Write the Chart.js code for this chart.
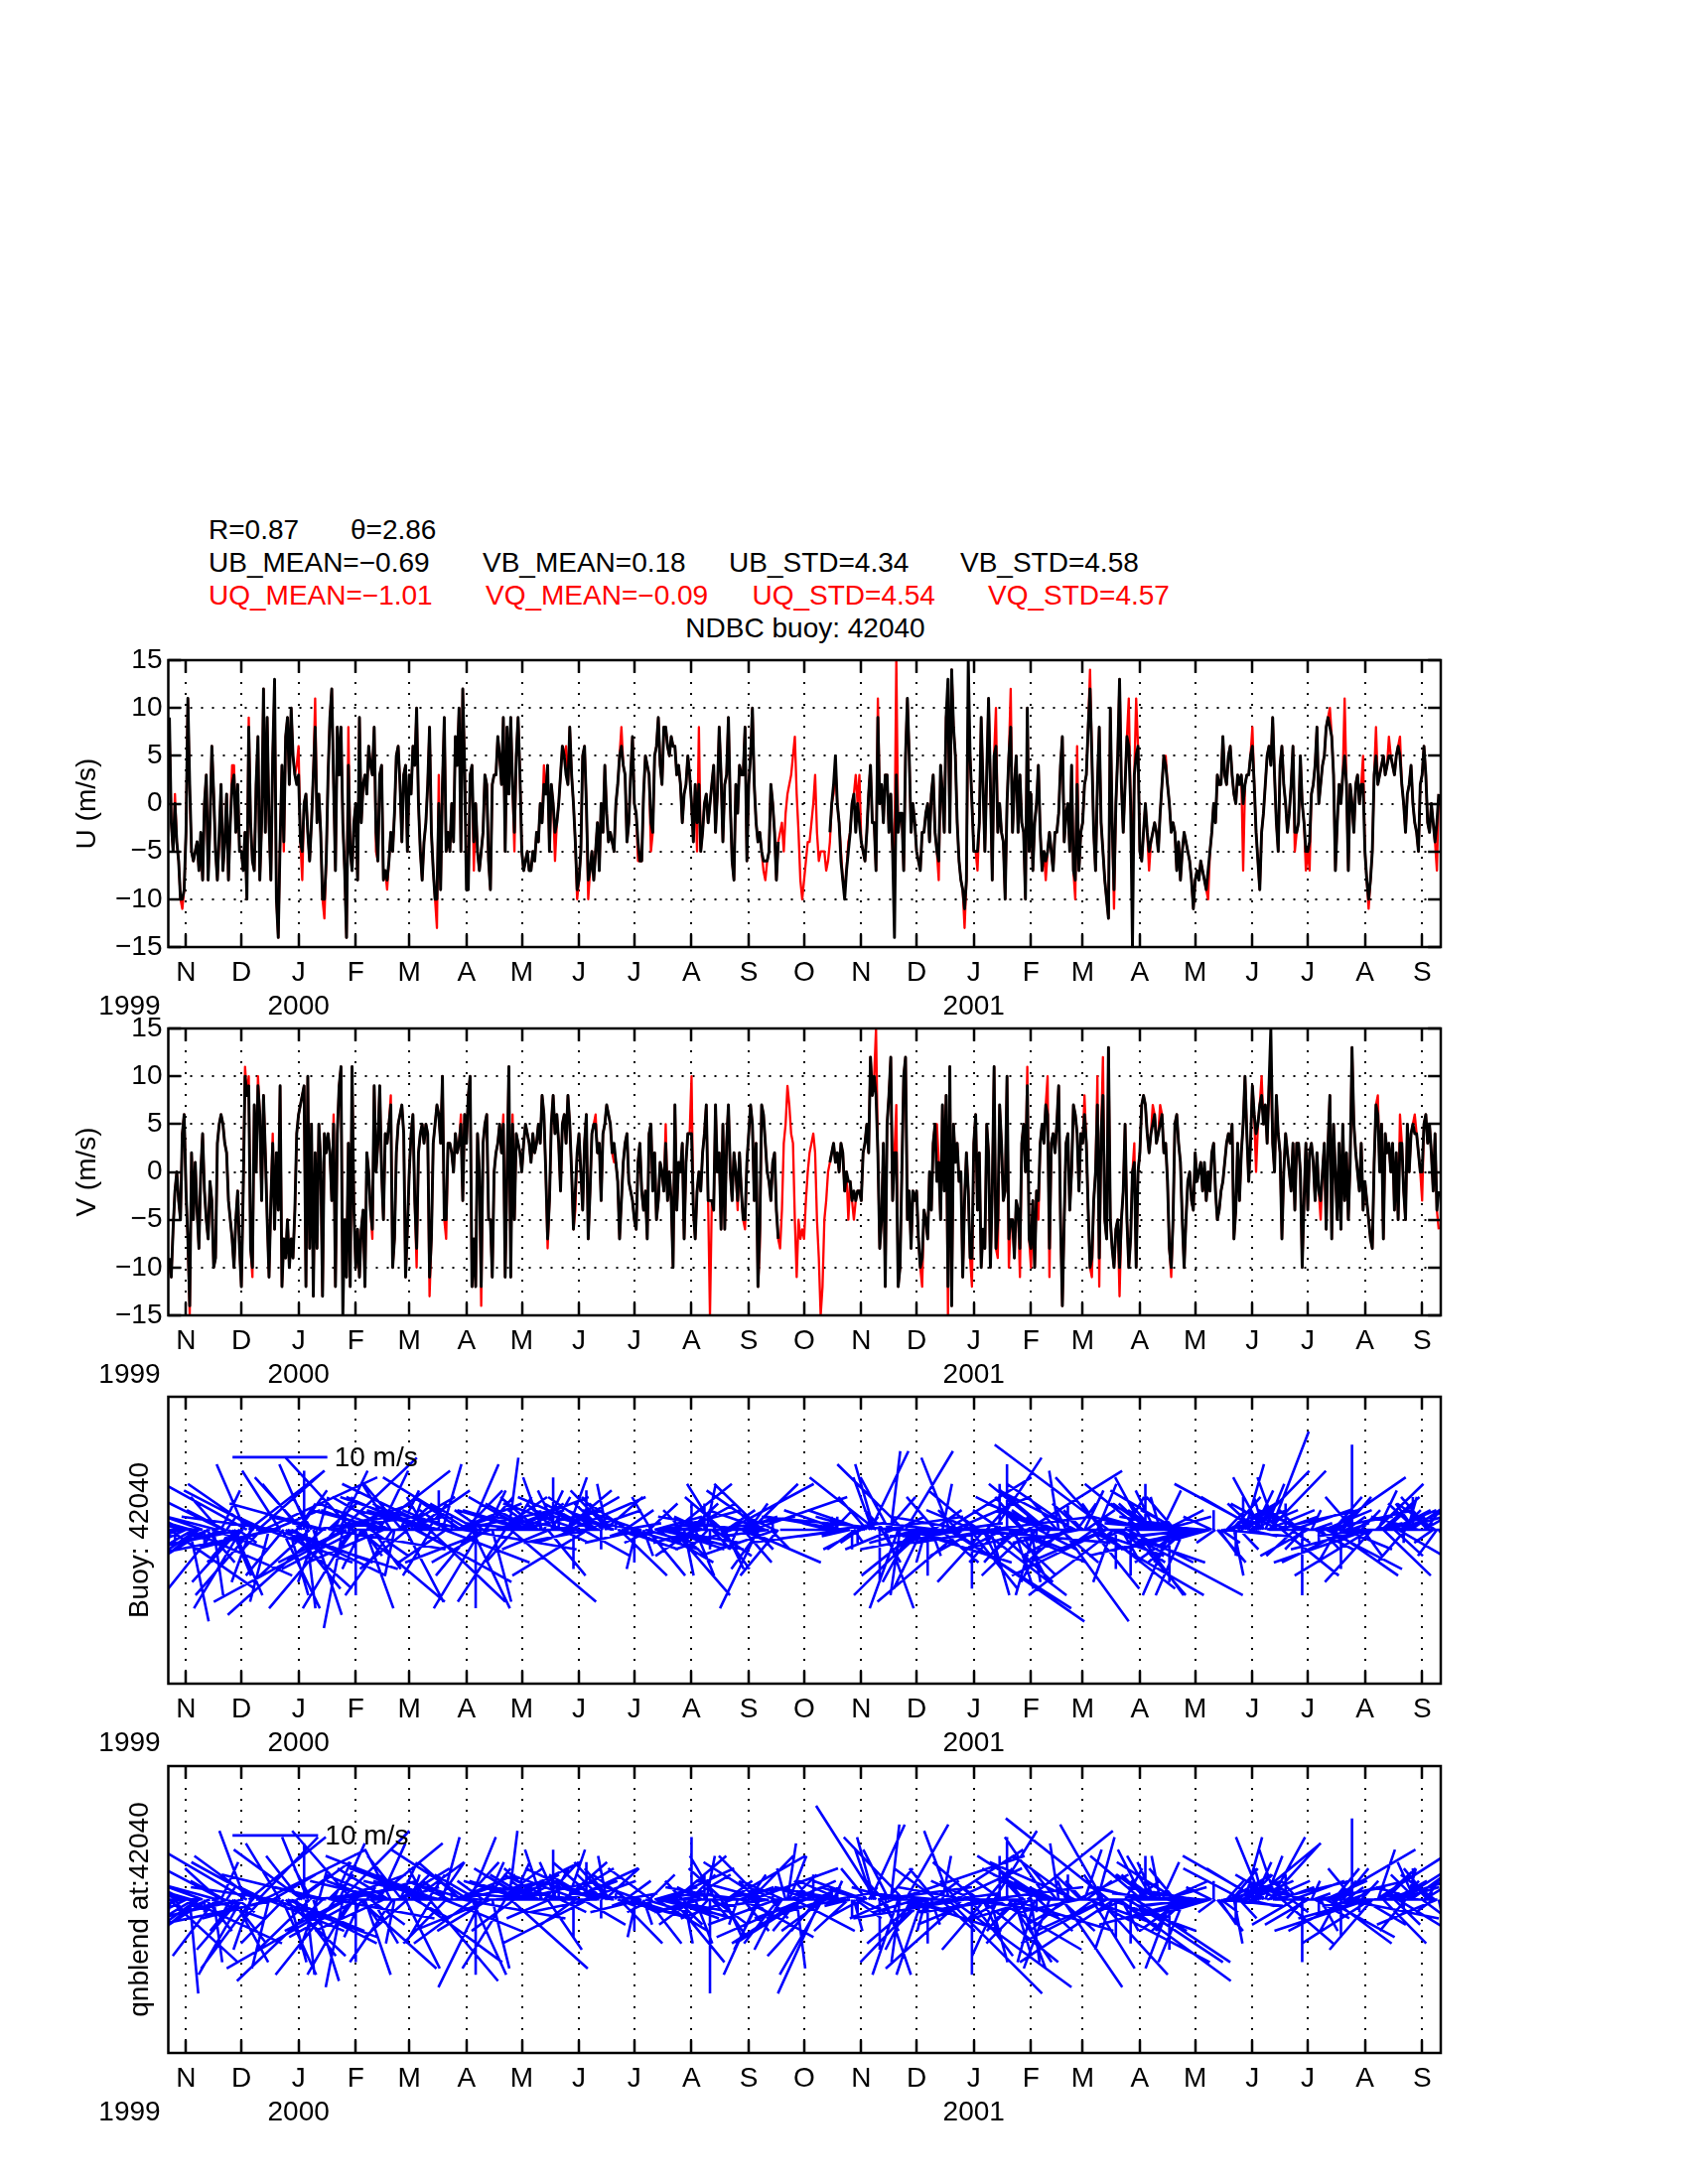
<!DOCTYPE html>
<html><head><meta charset="utf-8">
<script src="https://cdn.jsdelivr.net/npm/chart.js@4.4.1/dist/chart.umd.min.js"></script>
<style>
html,body{margin:0;padding:0;background:#fff;}
body{width:1700px;height:2200px;position:relative;overflow:hidden;font-family:"Liberation Sans",Arial,Helvetica,sans-serif;}
.t{position:absolute;font-size:28px;line-height:1;white-space:nowrap;color:#000;}
.r{color:#ff0000;}
canvas{position:absolute;left:0;}
</style></head><body>
<div class="t" style="left:210px;top:519.5px">R=0.87</div>
<div class="t" style="left:353px;top:519.5px">θ=2.86</div>
<div class="t" style="left:210px;top:553px">UB_MEAN=−0.69</div>
<div class="t" style="left:486px;top:553px">VB_MEAN=0.18</div>
<div class="t" style="left:734px;top:553px">UB_STD=4.34</div>
<div class="t" style="left:967px;top:553px">VB_STD=4.58</div>
<div class="t r" style="left:210px;top:585.5px">UQ_MEAN=−1.01</div>
<div class="t r" style="left:489px;top:585.5px">VQ_MEAN=−0.09</div>
<div class="t r" style="left:757.5px;top:585.5px">UQ_STD=4.54</div>
<div class="t r" style="left:995px;top:585.5px">VQ_STD=4.57</div>
<div class="t" style="left:811px;top:619px;transform:translateX(-50%)">NDBC buoy: 42040</div>
<script>
const _ = null;
// daily samples, first one on 23 Oct 1999 (day -9 relative to 1 Nov 1999)
const DAY0 = -9;
const monthLetters = ['N','D','J','F','M','A','M','J','J','A','S','O','N','D','J','F','M','A','M','J','J','A','S'];
const yearLabels = ['1999','2000','2001'];
const uvTicks = [-15,-10,-5,0,5,10,15];
const legendSpeed = 10;

// U buoy (m/s)
const ubuoy = [
9,-2,-5,0,-4,-6,-10,-10,-9,
-3,11,2,-5,-6,-5,-4,-7,-3,-8,0,3,-8,-2,6,1,-5,-8,-3,2,-7,-4,1,-8,-2,2,3,-3,2,-5,
-5,-7,-3,-10,8,-2,-6,-7,2,7,-8,-2,12,-3,9,-2,-8,5,13,-10,-14,-4,4,-4,7,9,2,10,5,3,2,
3,-4,-5,0,1,-3,-6,-2,3,8,-2,1,-3,-10,-10,-6,3,9,12,2,-7,8,3,8,-2,-7,-14,4,-5,-7,-2,
0,-8,9,-2,2,3,1,6,4,3,8,-3,-6,3,4,-8,-7,-8,-6,-3,-5,-1,5,6,2,-4,3,4,-5,
3,1,6,4,10,0,-5,-8,-4,-2,2,8,-3,-7,-10,-10,0,-9,2,9,-5,-3,-5,0,-4,7,4,10,-5,12,4,
-9,-9,3,4,-4,0,-5,-7,-5,-3,3,2,-6,-9,2,3,3,7,5,2,9,-5,8,1,9,2,-3,5,9,3,
-5,-7,-6,-5,-7,-7,-5,-6,-3,-4,0,-2,2,1,4,-5,2,0,-3,-2,0,3,6,5,3,2,8,3,0,-4,-9,
-8,-5,5,6,0,-8,-7,-5,-8,-5,-2,-7,0,-3,4,-1,-4,-3,-4,-5,0,2,5,6,4,3,-4,-2,3,7,
0,-1,-4,-6,-6,1,5,4,3,-2,-3,5,6,9,4,2,8,8,6,5,7,6,6,3,4,2,-2,1,2,5,3,
0,-4,2,-2,2,-5,-3,0,1,-2,0,2,4,-3,1,8,3,-4,2,3,9,0,-6,-8,2,-1,4,3,3,8,-6,
2,5,10,2,-2,-4,-3,-5,-6,-6,-6,-5,2,0,-3,-8,-4,_,_,_,_,_,_,_,_,_,_,_,_,_,
_,_,_,_,_,_,_,_,_,_,_,_,_,_,-3,0,2,5,0,-2,-6,-8,-10,-7,-5,-3,0,1,-3,0,-2,
-4,-5,-6,-3,1,4,-2,-2,-7,9,0,2,-2,3,3,-3,1,-5,-14,3,-3,-1,-1,-7,5,11,5,-3,0,-2,
-5,-6,-7,-3,-3,-1,0,-4,1,3,-3,-5,-6,4,1,-3,9,13,-3,14,8,5,-2,-6,-8,-9,-11,-8,15,5,0,
-5,-5,-5,-2,9,2,-5,3,11,2,-8,5,6,-3,0,-3,-4,-10,0,5,8,-3,2,5,-3,3,-2,-3,-10,10,-5,
1,-7,-2,0,4,-3,-7,-5,-6,-5,-3,-5,-7,-3,-3,-1,4,7,-4,-1,0,-5,4,-7,-8,2,-7,-3,
-2,2,3,8,12,5,-3,-7,2,8,-2,-5,-8,-10,-12,10,-2,-9,0,5,13,2,-3,2,7,6,0,-15,3,5,6,
-5,-6,-3,0,-3,-5,-4,-3,-2,-3,-5,-1,2,5,4,2,0,-3,-2,-3,-7,-4,-8,-5,-3,-4,-5,-6,-8,-11,
-8,-7,-8,-6,-7,-8,-9,-7,-5,-3,0,-2,3,2,2,7,3,2,5,6,3,1,0,3,2,3,0,2,3,3,5,
6,2,-3,-6,-9,-3,-1,2,5,6,4,9,3,-2,-5,4,6,2,0,-3,-1,2,6,-3,-3,-2,5,0,-2,-5,
-5,-4,1,2,4,8,0,2,4,5,8,9,8,7,3,-7,-2,2,0,3,5,2,-7,2,0,-3,2,3,0,2,2,
-5,-8,-10,-8,-5,3,5,2,3,4,5,3,4,5,5,4,3,5,6,5,2,0,-3,1,2,4,0,-2,-3,-5,2,
3,6,3,-2,-3,0,-2,-4,-2,1];

// U qnblend (m/s)
const uqn = [
8,-2,-5,1,-4,-6,-10,-11,-9,
-3,11,1,-5,-6,-5,-4,-7,-4,-8,0,3,-8,-2,6,1,-5,-8,-4,2,-7,-4,1,-8,-2,4,4,-3,2,-5,
-5,-7,-3,-10,9,-2,-6,-7,2,7,-8,-2,12,-3,9,-2,-8,5,12,-10,-14,-4,4,-5,7,9,2,10,5,3,4,
6,-4,-8,0,1,-3,-6,-2,3,11,-2,1,-3,-10,-12,-6,3,9,12,2,-7,8,3,8,-2,-7,-14,8,-5,-7,-2,
0,-8,9,-2,2,3,1,6,4,3,8,-5,-6,3,4,-8,-7,-9,-6,-3,-5,-1,5,6,2,-4,3,4,-5,
3,1,6,4,10,0,-5,-8,-4,-2,2,8,-3,-7,-10,-13,3,-9,2,9,-5,-3,-5,0,-4,7,4,10,-5,12,4,
-7,-9,3,4,-7,0,-5,-7,-5,-3,3,2,-6,-9,2,3,3,7,5,2,9,-5,8,1,9,2,-5,5,9,3,
-5,-7,-6,-5,-7,-7,-5,-6,-3,-4,0,-2,4,1,4,-5,2,0,-6,-2,0,3,6,5,6,2,8,3,0,-4,-10,
-8,-5,5,6,0,-10,-7,-5,-8,-5,-2,-7,0,-3,4,-1,-4,-3,-4,-5,0,2,5,8,4,3,-4,-2,3,7,
0,-1,-6,-6,-6,1,5,4,3,-5,-3,5,6,9,4,2,8,8,6,5,7,6,6,3,4,2,-2,1,2,5,3,
0,-4,2,-5,8,-5,-3,0,1,-2,0,2,4,-3,1,8,3,-4,2,3,9,0,-6,-8,2,-1,4,3,3,8,-6,
2,5,10,2,-2,-4,-3,-5,-7,-8,-6,-5,2,0,-3,-8,-4,-3,-2,-5,-1,1,2,3,5,7,1,-3,-8,-10,
-8,-6,-4,-4,-2,0,3,-3,-6,-5,-5,-5,-7,-6,-4,0,1,4,0,-2,-5,-8,-9,-7,-4,-3,0,1,3,0,3,
-4,-5,-6,-3,1,4,-2,-2,-7,11,0,2,-2,3,3,-3,1,-5,-5,15,-3,-1,-1,-7,5,11,5,-3,0,-2,
-5,-6,-7,-3,-3,-1,0,-4,1,3,-3,-5,-8,4,1,-3,9,11,-3,14,8,5,-2,-6,-8,-9,-13,-8,10,5,0,
-5,-5,-7,-2,9,2,-5,3,11,2,-8,5,10,-3,0,-3,-4,-10,0,5,12,-3,2,5,-3,3,-2,-3,-10,10,-5,
1,-7,-2,0,4,-3,-7,-5,-8,-5,-3,-5,-7,-3,-3,-1,4,7,-4,-1,0,-5,4,-7,-10,6,-7,-3,
-2,2,3,8,14,5,-3,-7,2,8,-2,-5,-8,-10,-12,10,-2,-11,0,5,13,2,-3,2,7,11,0,-5,3,11,6,
-5,-6,-3,0,-3,-7,-4,-3,-2,-3,-5,-1,2,5,5,2,0,-3,-2,-3,-7,-4,-8,-5,-3,-4,-5,-6,-8,-11,
-8,-7,-8,-6,-7,-8,-9,-10,-5,-3,0,-2,3,2,2,7,3,2,5,6,3,1,0,3,2,3,-7,2,3,3,5,
8,2,-3,-6,-9,-3,-1,2,5,6,4,9,3,-2,-5,4,6,2,0,-3,-1,2,6,-5,-3,-2,5,0,-2,-7,
-5,-7,1,2,4,8,0,2,4,5,8,9,10,7,3,-7,-2,2,0,3,11,2,-7,2,0,-3,2,3,0,2,5,
-5,-8,-11,-8,-5,3,8,2,3,4,5,3,4,7,5,4,3,5,6,7,2,0,-3,1,2,4,0,-2,-3,-5,2,
3,6,3,-2,-3,0,-2,-4,-7,1];

// V buoy (m/s)
const vbuoy = [
-9,-11,-6,-2,0,-3,-5,4,6,
-2,-7,-14,2,-5,1,-4,-8,0,4,-2,-5,-7,-1,-3,-10,-9,3,5,6,5,3,2,-3,-5,-7,-10,-5,-2,-8,
-12,-2,10,8,9,-8,-10,7,0,9,6,-3,8,2,-5,-11,-3,3,-6,2,-4,9,-12,-7,-9,-5,-10,-7,-9,-4,4,
6,7,8,9,-12,10,-8,5,-13,2,-8,5,1,-13,4,2,4,2,-3,5,-12,4,9,11,-15,-5,-11,3,-12,11,-4,
-10,-6,-11,-6,-4,-12,2,0,-4,-6,9,0,3,9,0,-5,4,3,5,7,-10,-7,2,5,6,7,4,-11,-6,
0,4,6,-3,-8,2,4,5,3,5,4,-11,-7,3,5,7,6,3,10,-5,-5,3,3,2,0,4,2,3,5,-3,6,
3,8,10,-12,-7,-12,4,0,-12,3,5,6,-5,-5,-11,0,2,3,5,2,5,-11,0,11,-11,5,-5,4,3,2,
0,3,5,4,3,1,4,2,3,5,3,8,6,0,-7,-3,5,8,4,6,3,-2,5,6,3,8,5,0,-6,-2,2,
4,0,-4,3,6,-7,-2,4,5,5,2,3,-3,4,5,7,6,5,2,3,1,-1,-7,-3,1,3,4,-1,-2,-3,
-5,-6,1,3,-2,-4,-2,-7,4,5,-2,2,-5,-3,1,0,-2,3,-3,0,-3,-10,7,-4,1,0,3,-7,1,4,4,
4,-4,-7,-2,0,-2,2,4,7,-3,-3,-3,-4,7,0,2,-6,5,-6,3,7,0,-3,2,0,-3,2,-2,-5,-5,1,
4,7,5,-3,3,-12,-6,7,6,3,0,-1,-3,1,2,-4,-7,_,_,_,_,_,_,_,_,_,_,_,_,_,
_,_,_,_,_,_,_,_,_,_,_,_,_,_,1,2,3,1,2,0,3,2,-2,0,-1,-1,-3,-2,-3,-2,-2,
-3,2,3,5,2,12,8,10,8,2,-8,-5,3,-12,5,8,12,-3,2,2,-12,-10,0,10,12,-5,-2,-8,-2,-3,
-2,-7,-10,-9,-4,-5,-7,0,-4,3,5,-1,1,-5,7,-2,8,-12,11,-14,5,1,3,-1,0,-11,-3,2,-2,-9,-9,
3,6,-4,2,-10,-6,-8,5,2,-10,-2,11,-8,-5,7,3,-3,-2,10,-7,-5,-5,-9,-3,-4,-8,3,5,0,9,-7,
-8,-3,-10,-2,-3,3,5,3,7,6,-8,3,4,2,5,9,-5,-14,-5,3,4,-4,0,7,6,4,-2,4,
3,6,3,-4,-10,-9,-3,0,7,-9,4,8,-5,-7,13,-5,-8,-10,-6,-5,-10,-5,-2,5,-5,-10,-7,0,1,-10,0,
2,7,8,7,4,2,4,5,6,3,4,5,6,2,3,-1,-8,-10,-5,5,6,3,1,-5,-10,-5,-1,0,-3,-4,
2,-1,0,1,-2,1,-3,0,-2,2,3,-2,-5,-4,-2,-1,1,3,4,3,5,-7,-4,3,-3,2,5,10,4,-1,3,
9,6,4,5,7,8,5,7,3,9,15,3,0,8,4,2,-7,0,4,2,0,-2,3,-4,3,3,0,-10,-3,3,
-4,2,3,1,-3,2,-2,-3,0,3,-6,3,8,-7,5,0,-5,3,-6,5,-3,2,-5,1,13,5,2,0,-2,3,-4,
-1,-3,-5,-7,-8,1,7,6,0,5,-7,4,2,3,0,3,-4,2,-5,3,3,-2,-5,5,0,4,5,4,4,2,0,
0,5,6,3,5,2,-2,4,-4,-2];

// V qnblend (m/s)
const vqn = [
-10,-11,-6,-2,0,-3,-5,4,6,
-2,-7,-15,2,-5,1,-4,-8,0,4,-2,-5,-7,-1,-3,-10,-9,3,5,6,5,3,2,-3,-5,-7,-10,-5,-2,-8,
-12,-2,11,8,10,-8,-11,7,0,10,6,-3,8,2,-5,-11,-3,4,-6,2,-4,9,-12,-7,-9,-5,-10,-7,-9,-4,4,
6,7,8,9,-12,10,-8,5,-13,2,-8,5,1,-13,4,2,4,2,-3,6,-12,4,9,11,-14,-5,-11,3,-12,11,-4,
-10,-6,-11,-6,-4,-12,2,0,-4,-7,9,0,3,9,0,-5,4,3,5,8,-10,-7,2,5,6,7,4,-11,-6,
0,4,6,-3,-10,2,4,5,3,5,4,-13,-7,3,5,7,6,3,10,-5,-7,3,3,2,0,4,2,3,6,-3,6,
3,8,10,-12,-7,-12,4,0,-14,3,5,6,-5,-5,-11,0,2,3,5,2,6,-11,0,11,-11,6,-5,4,3,2,
0,3,5,4,3,1,4,2,3,5,3,8,6,0,-8,-3,5,8,4,6,3,-2,5,6,3,8,5,0,-6,-4,2,
4,0,-4,3,6,-7,-2,4,5,6,2,3,-3,4,5,7,6,5,2,1,1,-1,-7,-3,1,3,4,-1,-2,-3,
-5,-6,1,3,-2,-4,-2,-7,4,5,-2,2,-5,-3,1,0,-2,5,-3,0,-3,-10,7,-4,1,0,3,-7,1,4,4,
10,-4,-7,-2,0,-2,2,4,7,-3,-15,-3,-4,7,0,2,-6,5,-6,3,7,0,-3,2,0,-4,2,-2,-5,-6,1,
4,7,5,-3,3,-12,-8,7,6,3,0,-1,-3,1,2,-4,-7,-8,-4,3,5,9,7,4,3,-5,-11,-5,-7,-6,
-7,-3,0,2,3,4,2,-5,-9,-15,-12,-5,-3,0,1,2,3,1,2,0,3,2,-2,0,-5,-1,-3,-5,-3,-2,-2,
-3,2,3,5,2,12,8,10,15,2,-8,-5,3,-12,5,8,12,-3,2,7,-12,-10,0,10,12,-5,-2,-8,-2,-3,
-2,-7,-10,-12,-4,-5,-7,0,-4,3,5,5,1,-5,7,-2,8,-15,11,-14,5,1,3,-1,0,-11,-3,2,-2,-9,-12,
3,6,-4,2,-10,-6,-8,5,2,-10,-2,11,-8,-9,7,3,-3,-2,10,-10,-5,-5,-9,-3,-4,-11,3,5,0,11,-7,
-10,-3,-10,-2,-5,3,5,3,7,10,-11,3,4,2,5,9,-5,-14,-5,3,4,-4,0,7,6,4,-2,4,
3,8,3,-4,-10,-11,-3,0,10,-12,4,12,-5,-7,13,-5,-8,-10,-6,-5,-13,-5,-2,5,-5,-10,-7,0,3,-10,0,
2,7,8,7,4,2,4,7,6,3,4,7,6,2,3,-1,-8,-11,-5,5,6,3,1,-5,-10,-5,-1,0,-3,-4,
2,-1,0,1,-2,-1,-3,0,-2,2,3,-2,-5,-4,-2,-1,1,3,4,3,5,-7,-4,3,-3,2,5,10,4,-1,3,
9,6,0,5,7,10,5,7,3,9,10,3,0,8,4,2,-7,0,4,2,0,-2,3,-4,3,3,0,-10,-3,3,
-4,2,3,1,-3,2,-2,-5,0,3,-6,3,8,-7,5,0,-5,3,-6,5,-3,2,-5,1,13,5,2,0,-2,3,-4,
-1,-3,-5,-7,-8,1,7,8,0,5,-7,4,2,3,0,3,-4,2,-5,6,3,-2,-5,5,0,4,5,6,4,2,0,
-3,5,6,3,5,2,-2,4,-4,-6];

const FONT = '"Liberation Sans", Arial, Helvetica, sans-serif';
const FS = 28;
Chart.defaults.font.family = FONT;
Chart.defaults.font.size = FS;
Chart.defaults.color = '#000';

const X_MIN = -9.6, X_MAX = 680.1;
const PLOT = {left:169.5, right:1451, height:289, padTop:24, axisH:72, padBottom:10, tick:12.8};
const ORIGIN = Date.UTC(1999,10,1);
const monthDays = monthLetters.map((_m,k)=> (Date.UTC(1999,10+k,1)-ORIGIN)/864e5);
const yearDays = [null, (Date.UTC(2000,0,1)-ORIGIN)/864e5, (Date.UTC(2001,0,1)-ORIGIN)/864e5];

function series(arr){ return arr.map((v,i)=>({x:i+DAY0, y:v})); }

function makeCanvas(top){
  const c = document.createElement('canvas');
  c.width = 1700; c.height = PLOT.padTop+PLOT.height+PLOT.axisH+PLOT.padBottom;
  c.style.top = (top-PLOT.padTop)+'px';
  c.style.width = '1700px'; c.style.height = c.height+'px';
  document.body.appendChild(c);
  return c;
}

function framePlugin(cfg){
  return {
    id:'frame',
    beforeDatasetsDraw(chart){
      const {ctx, chartArea:a, scales:{x,y}} = chart;
      ctx.save();
      ctx.strokeStyle='#000'; ctx.lineWidth=2; ctx.setLineDash([2,9]);
      ctx.beginPath();
      monthDays.forEach(d=>{ const px=Math.round(x.getPixelForValue(d)); ctx.moveTo(px,a.top); ctx.lineTo(px,a.bottom); });
      if (cfg.hgrid) uvTicks.slice(1,-1).forEach(v=>{ const py=Math.round(y.getPixelForValue(v)); ctx.moveTo(a.left,py); ctx.lineTo(a.right,py); });
      ctx.stroke();
      ctx.restore();
    },
    afterDatasetsDraw(chart){
      const {ctx, chartArea:a, scales:{x,y}} = chart;
      ctx.save();
      ctx.setLineDash([]); ctx.strokeStyle='#000'; ctx.lineWidth=2.5;
      ctx.strokeRect(a.left,a.top,a.right-a.left,a.bottom-a.top);
      ctx.beginPath();
      monthDays.forEach(d=>{ const px=Math.round(x.getPixelForValue(d));
        ctx.moveTo(px,a.bottom); ctx.lineTo(px,a.bottom-PLOT.tick);
        ctx.moveTo(px,a.top); ctx.lineTo(px,a.top+PLOT.tick); });
      if (cfg.hgrid) uvTicks.forEach(v=>{ const py=Math.round(y.getPixelForValue(v));
        ctx.moveTo(a.left,py); ctx.lineTo(a.left+PLOT.tick,py);
        ctx.moveTo(a.right,py); ctx.lineTo(a.right-PLOT.tick,py); });
      ctx.stroke();
      ctx.fillStyle='#000'; ctx.font=FS+'px '+FONT; ctx.textAlign='center'; ctx.textBaseline='middle';
      yearLabels.forEach((t,i)=>{ const px = yearDays[i]==null ? a.left-39 : x.getPixelForValue(yearDays[i]); ctx.fillText(t, px, a.bottom+60); });
      if (cfg.legend){
        const p = chart.getDatasetMeta(1).data[1];
        ctx.textAlign='left';
        ctx.fillText(legendSpeed+' m/s', p.x+7, p.y+1);
      }
      ctx.restore();
    }
  };
}

function options(yMin,yMax,title,titleX,showY){
  return {
    responsive:false, animation:false, devicePixelRatio:1, events:[],
    layout:{padding:{left:0,right:1700-PLOT.right,top:PLOT.padTop,bottom:PLOT.padBottom}},
    plugins:{legend:{display:false},tooltip:{enabled:false}},
    scales:{
      x:{type:'linear',min:X_MIN,max:X_MAX,
        afterBuildTicks:s=>{ s.ticks = monthDays.map(v=>({value:v})); },
        afterFit:s=>{ s.height = PLOT.axisH; },
        grid:{display:false,drawTicks:false}, border:{display:false},
        ticks:{autoSkip:false,maxRotation:0,minRotation:0,padding:9,color:'#000',font:{size:FS},
          callback:(v)=>{ const k=monthDays.indexOf(v); return k>=0?monthLetters[k]:''; }}},
      y:{type:'linear',min:yMin,max:yMax,
        afterBuildTicks:s=>{ s.ticks = showY ? uvTicks.map(v=>({value:v})) : []; },
        afterFit:s=>{ s.width = PLOT.left; },
        grid:{display:false,drawTicks:false}, border:{display:false},
        ticks:{display:showY,padding:6,color:'#000',font:{size:FS},
          callback:v=> v<0 ? '\u2212'+(-v) : String(v)},
        title:{display:true,text:title,color:'#000',font:{size:FS},padding:{top:titleX-FS*0.6,bottom:0}}}
    }
  };
}

function tsChart(top, black, red, title){
  const c = makeCanvas(top);
  new Chart(c, {
    type:'line',
    data:{datasets:[
      {data:series(black), borderColor:'#000000', borderWidth:2.9, pointRadius:0, tension:0, spanGaps:false, borderJoinStyle:'round', order:1},
      {data:series(red), borderColor:'#ff0000', borderWidth:2.3, pointRadius:0, tension:0, spanGaps:false, borderJoinStyle:'round', order:2}
    ]},
    options:options(-15,15,title,88,true),
    plugins:[framePlugin({hgrid:true})]
  });
}

// sticks: horizontal scale pxPerMsX (from the 10 m/s key), vertical scale from the y limits
function stickChart(top, u, v, yMin, yMax, pxPerMsX, title, legendY){
  const pxPerDay = (PLOT.right-PLOT.left)/(X_MAX-X_MIN);
  const kx = pxPerMsX/pxPerDay;
  const pts = [];
  u.forEach((uu,i)=>{ const vv=v[i]; if(uu==null||vv==null) return; const t=i+DAY0;
    pts.push({x:t,y:0},{x:t+uu*kx,y:vv},{x:t,y:null}); });
  const lx0 = 25.2;
  const c = makeCanvas(top);
  new Chart(c, {
    type:'line',
    data:{datasets:[
      {data:pts, borderColor:'#0000ff', borderWidth:2.6, pointRadius:0, tension:0, spanGaps:false},
      {data:[{x:lx0,y:legendY},{x:lx0+legendSpeed*kx,y:legendY}], borderColor:'#0000ff', borderWidth:2.8, pointRadius:0}
    ]},
    options:options(yMin,yMax,title,141.5,false),
    plugins:[framePlugin({hgrid:false, legend:true})]
  });
}

tsChart(664.7, ubuoy, uqn, 'U (m/s)');
tsChart(1035.8, vbuoy, vqn, 'V (m/s)');
stickChart(1407.3, ubuoy, vbuoy, -23.5, 20.3, 9.55, 'Buoy: 42040', 11.06);
stickChart(1778.5, uqn, vqn, -24.5, 21.35, 8.62, 'qnblend at:42040', 10.27);
</script>
</body></html>
